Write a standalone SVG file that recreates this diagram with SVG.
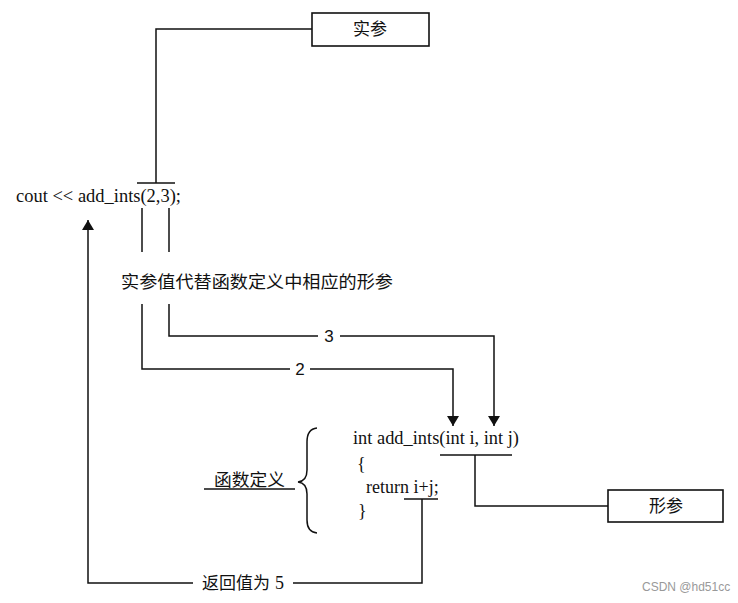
<svg xmlns="http://www.w3.org/2000/svg" width="738" height="603" viewBox="0 0 738 603">
<defs>
<style>
.ln{fill:none;stroke:#111;stroke-width:1.5}
.box{fill:#fff;stroke:#111;stroke-width:1.6}
.code{font-family:"Liberation Serif","Times New Roman",serif;font-size:18px;fill:#111}
.cn{font-family:"Noto Sans CJK SC","Noto Sans",sans-serif;font-size:17px;fill:#111}
.num{font-family:"Liberation Sans",Arial,sans-serif;font-size:17px;fill:#111}
.wm{font-family:"Liberation Sans",Arial,sans-serif;font-size:12px;fill:#999}
</style>
<marker id="ah" viewBox="0 0 10 12" refX="10" refY="6" markerWidth="10" markerHeight="12" markerUnits="userSpaceOnUse" orient="auto">
<path d="M0,0 L10,6 L0,12 Z" fill="#111"/>
</marker>
</defs>
<rect width="738" height="603" fill="#fff"/>

<g id="connectors">
<path class="ln" d="M312,29 H156 V183"/>
<path class="ln" d="M137,183 H175"/>
<path class="ln" d="M142,208 V252"/>
<path class="ln" d="M169,208 V252"/>
<path class="ln" d="M169,304 V336 H318"/>
<path class="ln" d="M340,336 H494 V426" marker-end="url(#ah)"/>
<path class="ln" d="M142,304 V369 H290"/>
<path class="ln" d="M310,369 H453 V426" marker-end="url(#ah)"/>
<path class="ln" d="M440,455 H512"/>
<path class="ln" d="M475,455 V506 H608"/>
<path class="ln" d="M404,499 H438"/>
<path class="ln" d="M422,499 V583 H293"/>
<path class="ln" d="M193,583 H88 V220" marker-end="url(#ah)"/>
<path class="ln" d="M204,489 H295"/>
<path class="ln" d="M317,428 Q307,429 307,442 V470 Q307,481 298,482 Q307,483 307,494 V520 Q307,532 317,533"/>
</g>

<g id="actual-param">
<rect class="box" x="312" y="13" width="117" height="33"/>
<text class="cn" x="370" y="35" text-anchor="middle">实参</text>
</g>

<g id="call">
<text class="code" x="16" y="202" textLength="165" lengthAdjust="spacingAndGlyphs">cout &lt;&lt; add_ints(2,3);</text>
</g>

<g id="replace-label">
<text class="cn" x="121" y="288" textLength="272" lengthAdjust="spacingAndGlyphs">实参值代替函数定义中相应的形参</text>
</g>

<g id="value-labels">
<text class="num" x="329" y="342" text-anchor="middle">3</text>
<text class="num" x="300" y="375" text-anchor="middle">2</text>
</g>

<g id="function-def">
<text class="code" x="353" y="444" textLength="166" lengthAdjust="spacingAndGlyphs">int add_ints(int i, int j)</text>
<text class="code" x="357" y="470">{</text>
<text class="code" x="366" y="493">return i+j;</text>
<text class="code" x="358" y="517">}</text>
</g>

<g id="def-label">
<text class="cn" x="214" y="486" textLength="71" lengthAdjust="spacingAndGlyphs">函数定义</text>
</g>

<g id="formal-param">
<rect class="box" x="608" y="490" width="115" height="32"/>
<text class="cn" x="666" y="512" text-anchor="middle">形参</text>
</g>

<g id="return-label">
<text class="cn" x="202" y="589"><tspan textLength="68" lengthAdjust="spacingAndGlyphs">返回值为</tspan><tspan class="code" x="275" y="589">5</tspan></text>
</g>

<text class="wm" x="642" y="591">CSDN @hd51cc</text>
</svg>
